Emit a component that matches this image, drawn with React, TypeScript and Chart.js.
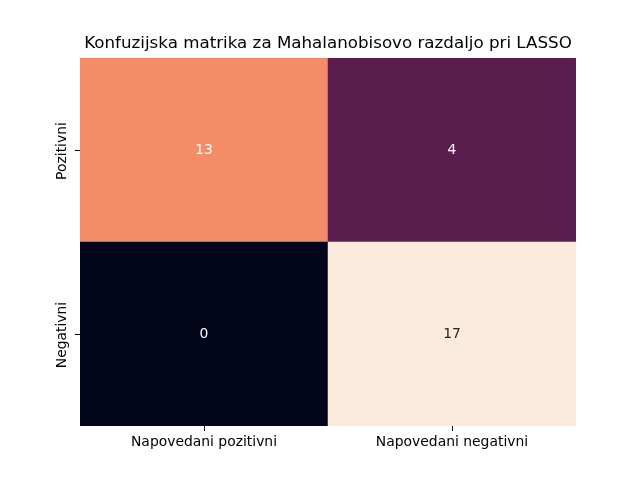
import React, { useEffect, useRef } from "react";
import { Chart, registerables } from "chart.js";

Chart.register(...registerables);

const title = "Konfuzijska matrika za Mahalanobisovo razdaljo pri LASSO";
const xLabels = ["Napovedani pozitivni", "Napovedani negativni"];
const yLabels = ["Pozitivni", "Negativni"]; // top row, bottom row
const rowPozitivni = [13, 4];
const rowNegativni = [0, 17];
const vmin = 0;
const vmax = 17;

// seaborn "rocket" colormap stops
const rocketStops: [number, string][] = [
  [0, "#03051A"],
  [1 / 7, "#35193E"],
  [2 / 7, "#701F57"],
  [3 / 7, "#AD1759"],
  [4 / 7, "#E13342"],
  [5 / 7, "#F37651"],
  [6 / 7, "#F6B48F"],
  [1, "#FAEBDD"],
];

function hexToRgb(h: string) {
  const n = parseInt(h.slice(1), 16);
  return [(n >> 16) & 255, (n >> 8) & 255, n & 255];
}

function rocket(v: number): number[] {
  const t = Math.max(0, Math.min(1, (v - vmin) / (vmax - vmin)));
  for (let i = 0; i < rocketStops.length - 1; i++) {
    const [p0, c0] = rocketStops[i];
    const [p1, c1] = rocketStops[i + 1];
    if (t >= p0 && t <= p1) {
      const f = (t - p0) / (p1 - p0);
      const a = hexToRgb(c0);
      const b = hexToRgb(c1);
      return a.map((x, k) => Math.round(x + (b[k] - x) * f));
    }
  }
  return hexToRgb(rocketStops[rocketStops.length - 1][1]);
}

function rgbStr(c: number[]) {
  return `rgb(${c[0]},${c[1]},${c[2]})`;
}

function textColor(c: number[]) {
  const lin = c.map((x) => {
    const s = x / 255;
    return s <= 0.03928 ? s / 12.92 : Math.pow((s + 0.055) / 1.055, 2.4);
  });
  const lum = 0.2126 * lin[0] + 0.7152 * lin[1] + 0.0722 * lin[2];
  return lum > 0.408 ? "#262626" : "#ffffff";
}

const FONT = "'DejaVu Sans', sans-serif";
const TICK_SIZE = 13.9;

const annotatePlugin = {
  id: "annotateCells",
  afterDatasetsDraw(chart: any) {
    const ctx = chart.ctx;
    ctx.save();
    ctx.font = `${TICK_SIZE}px ${FONT}`;
    ctx.textAlign = "center";
    ctx.textBaseline = "middle";
    chart.data.datasets.forEach((ds: any, di: number) => {
      const meta = chart.getDatasetMeta(di);
      meta.data.forEach((bar: any, i: number) => {
        const v = ds.values[i];
        const c = rocket(v);
        ctx.fillStyle = textColor(c);
        const cx = bar.x;
        const cy = (bar.y + bar.base) / 2;
        ctx.fillText(String(v), cx, cy);
      });
    });
    // y tick labels, rotated
    const ys = chart.scales.y;
    ctx.fillStyle = "#000";
    ctx.font = `${TICK_SIZE}px ${FONT}`;
    const rowCenters = [1.5, 0.5];
    yLabels.forEach((lab, i) => {
      const py = ys.getPixelForValue(rowCenters[i]);
      ctx.save();
      ctx.translate(ys.right - 17.5, py + 1);
      ctx.rotate(-Math.PI / 2);
      ctx.textAlign = "center";
      ctx.textBaseline = "middle";
      ctx.fillText(lab, 0, 0);
      ctx.restore();
    });
    ctx.restore();
  },
};

export default function App() {
  const ref = useRef<HTMLCanvasElement>(null);
  useEffect(() => {
    if (!ref.current) return;
    const colsNeg = rowNegativni.map((v) => rgbStr(rocket(v)));
    const colsPoz = rowPozitivni.map((v) => rgbStr(rocket(v)));
    const chart = new Chart(ref.current, {
      type: "bar",
      data: {
        labels: xLabels,
        datasets: [
          {
            label: yLabels[1],
            data: rowNegativni.map(() => [0, 1]),
            values: rowNegativni,
            backgroundColor: colsNeg,
            borderColor: colsNeg,
            borderWidth: 1,
            borderSkipped: false,
            inflateAmount: 0.5,
            barPercentage: 1,
            categoryPercentage: 1,
          } as any,
          {
            label: yLabels[0],
            data: rowPozitivni.map(() => [1, 2]),
            values: rowPozitivni,
            backgroundColor: colsPoz,
            borderColor: colsPoz,
            borderWidth: 1,
            borderSkipped: false,
            inflateAmount: 0.5,
            barPercentage: 1,
            categoryPercentage: 1,
          } as any,
        ],
      },
      options: {
        animation: false,
        responsive: false,
        devicePixelRatio: 1,
        layout: { padding: { left: 0, right: 64, top: 0, bottom: 0 } },
        plugins: {
          legend: { display: false },
          tooltip: { enabled: false },
          title: {
            display: true,
            text: title,
            fullSize: false,
            color: "#000",
            font: { family: FONT, size: 16.7, weight: "normal", lineHeight: 1.2 },
            padding: { top: 34, bottom: 4 },
          } as any,
        },
        scales: {
          x: {
            type: "category",
            stacked: true,
            offset: true,
            grid: {
              display: true,
              drawOnChartArea: false,
              drawTicks: true,
              tickLength: 5,
              offset: false,
              color: "#000",
            },
            border: { display: false },
            ticks: {
              color: "#000",
              font: { family: FONT, size: TICK_SIZE },
              padding: 3,
              maxRotation: 0,
              minRotation: 0,
            },
            afterFit(scale: any) {
              scale.height = 54;
            },
          },
          y: {
            type: "linear",
            stacked: false,
            min: 0,
            max: 2,
            afterBuildTicks(scale: any) {
              scale.ticks = [{ value: 0.5 }, { value: 1.5 }];
            },
            grid: {
              display: true,
              drawOnChartArea: false,
              drawTicks: true,
              tickLength: 5,
              color: "#000",
            },
            border: { display: false },
            ticks: { display: false },
            afterFit(scale: any) {
              scale.width = 80;
            },
          },
        },
      } as any,
      plugins: [annotatePlugin],
    });
    return () => chart.destroy();
  }, []);
  return (
    <div style={{ position: "fixed", left: 0, top: 0, width: 640, height: 480, background: "#fff" }}>
      <canvas ref={ref} width={640} height={480} />
    </div>
  );
}
